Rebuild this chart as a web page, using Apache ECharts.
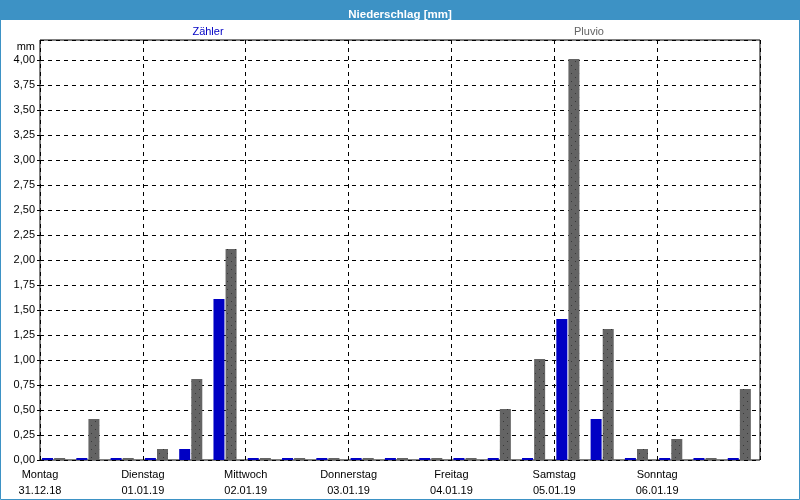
<!DOCTYPE html>
<html>
<head>
<meta charset="utf-8">
<script src="https://cdn.jsdelivr.net/npm/echarts@6/dist/echarts.min.js"></script>
<style>html,body{margin:0;padding:0;background:#fff}#c{width:800px;height:500px}</style>
</head>
<body>
<div id="c"></div>
<script>
// 8-hour bins, 3 per day, Mon 31.12.18 .. Sun 06.01.19
const bins = [
  'Mo 00-08','Mo 08-16','Mo 16-24',
  'Di 00-08','Di 08-16','Di 16-24',
  'Mi 00-08','Mi 08-16','Mi 16-24',
  'Do 00-08','Do 08-16','Do 16-24',
  'Fr 00-08','Fr 08-16','Fr 16-24',
  'Sa 00-08','Sa 08-16','Sa 16-24',
  'So 00-08','So 08-16','So 16-24'
];
const zaehler = [0.02,0.02,0.02, 0.02,0.11,1.61, 0.02,0.02,0.02, 0.02,0.02,0.02, 0.02,0.02,0.02, 1.41,0.41,0.02, 0.02,0.02,0.02];
const pluvio  = [0.02,0.41,0.02, 0.11,0.81,2.11, 0.02,0.02,0.02, 0.02,0.02,0.02, 0.02,0.51,1.01, 4.01,1.31,0.11, 0.21,0.02,0.71];
const dayNames = ['Montag','Dienstag','Mittwoch','Donnerstag','Freitag','Samstag','Sonntag'];
const dayDates = ['31.12.18','01.01.19','02.01.19','03.01.19','04.01.19','05.01.19','06.01.19'];
const yTicks = [0,0.25,0.5,0.75,1,1.25,1.5,1.75,2,2.25,2.5,2.75,3,3.25,3.5,3.75,4];
const seriesNames = ['Zähler','Pluvio'];

const FONT = 'Liberation Sans';
const BLUE = '#0000c4';
const GRAY = '#646464';
const FRAME = '#3d92c5';

// dotted fill pattern for the Pluvio bars
const pat = document.createElement('canvas');
pat.width = 8; pat.height = 8;
const pc = pat.getContext('2d');
pc.fillStyle = GRAY; pc.fillRect(0, 0, 8, 8);
pc.fillStyle = '#383838';
pc.fillRect(3, 1, 1, 1);
pc.fillRect(7, 5, 1, 1);

const chart = echarts.init(document.getElementById('c'), null, {renderer:'canvas'});
chart.setOption({
  backgroundColor: '#fff',
  animation: false,
  textStyle: {fontFamily: FONT},
  title: {
    text: 'Niederschlag [mm]', left: 'center', top: 4,
    textStyle: {color: '#fff', fontSize: 11.5, fontWeight: 'bold', fontFamily: FONT}
  },
  graphic: [
    {type:'rect', z:-10, silent:true, shape:{x:0,y:0,width:800,height:20}, style:{fill:FRAME}},
    {type:'rect', z:-10, silent:true, shape:{x:0.5,y:0.5,width:799,height:499}, style:{fill:null, stroke:FRAME, lineWidth:1}},
    {type:'text', x:208, y:26, style:{text: seriesNames[0], fill: BLUE, font: '11px ' + FONT, textAlign:'center'}},
    {type:'text', x:589, y:26, style:{text: seriesNames[1], fill: GRAY, font: '11px ' + FONT, textAlign:'center'}},
    {type:'text', x:35, y:41, style:{text: 'mm', fill: '#000', font: '11px ' + FONT, textAlign:'right'}}
  ],
  grid: {left: 40, right: 40, top: 40, bottom: 40, show: true, borderColor: '#000', borderWidth: 1, backgroundColor: 'transparent'},
  xAxis: [
    {type: 'category', data: bins, show: false, boundaryGap: true},
    {type: 'value', min: 0, max: 7, interval: 1, position: 'bottom',
     axisLine: {show: false}, axisTick: {show: false},
     splitLine: {show: true, lineStyle: {color: '#000', type: [4,4], width: 1}},
     axisLabel: {
       showMaxLabel: false,
       color: '#000', fontSize: 11, fontFamily: FONT, lineHeight: 16, margin: 7,
       formatter: v => (v < 7 ? dayNames[v] + '\n' + dayDates[v] : '')
     }}
  ],
  yAxis: {
    type: 'value', min: 0, max: 4.2, interval: 0.25,
    axisLine: {show: false},
    axisTick: {show: true, length: 3, lineStyle: {color: '#000'}},
    splitLine: {show: true, lineStyle: {color: '#000', type: [4,4], width: 1}},
    axisLabel: {
      showMaxLabel: false, color: '#000', fontSize: 11, fontFamily: FONT, margin: 5,
      formatter: v => (yTicks.some(t => Math.abs(t - v) < 1e-6) ? v.toFixed(2).replace('.', ',') : '')
    }
  },
  series: [
    {name: seriesNames[0], type: 'bar', xAxisIndex: 0, data: zaehler, barWidth: 11, barGap: '10%',
     itemStyle: {color: BLUE}},
    {name: seriesNames[1], type: 'bar', xAxisIndex: 0, data: pluvio, barWidth: 11, barGap: '10%',
     itemStyle: {color: {image: pat, repeat: 'repeat'}}},
    // empty spacer slot: the bar pair sits left of each bin centre in the original
    {name: 'spacer', type: 'bar', xAxisIndex: 0, data: bins.map(() => null), barWidth: 6, barGap: '10%', silent: true}
  ]
});
</script>
</body>
</html>
